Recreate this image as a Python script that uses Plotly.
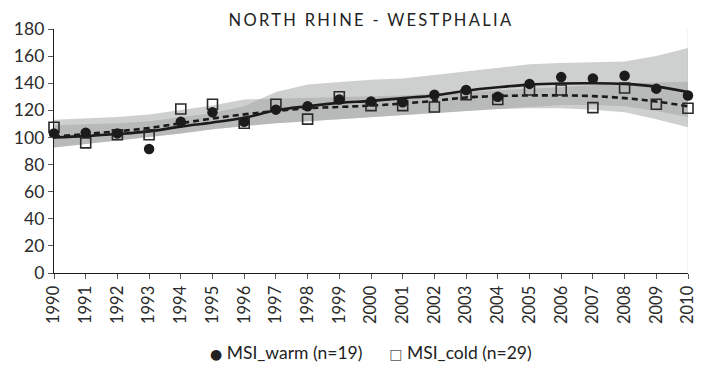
import plotly.graph_objects as go

years = list(range(1990, 2011))

# Annual index values (1990 = 100)
msi_warm = [103, 103.5, 103, 91.5, 111.5, 118.5, 111.5, 120.5, 123, 128, 126.5,
            126, 131.5, 135, 130, 139.5, 144.5, 143.5, 145.5, 136, 131]
msi_cold = [107.5, 96, 102, 102, 121, 124.5, 110.5, 124.5, 113.5, 130, 123.5,
            123.5, 122.5, 131.5, 128, 135, 135, 122, 136.5, 124.5, 121.5]

# Smoothed trends
warm_trend = [100, 101, 102.5, 104.5, 108, 111, 114.5, 120, 123, 125.5, 127,
              129, 131, 134.5, 137, 139, 139.8, 140, 139.5, 137.5, 133.5]
cold_trend = [100.5, 102.5, 104.5, 107, 110.5, 114, 117, 119.5, 121.5, 122.5, 123.5,
              125, 127, 129.5, 130.5, 131, 131, 130.5, 129, 126.5, 123]

# Confidence bands of the trends
warm_hi = [109, 109.5, 110.5, 112, 115, 118, 123, 133.5, 139, 141, 142.5,
           143.5, 146, 149, 151.5, 154, 155, 155.5, 156, 160, 166]
warm_lo = [92.5, 95, 98, 100.5, 103, 106, 108.5, 110.5, 112, 113.5, 115,
           117, 118.5, 120, 121, 122.5, 124, 124, 123, 119.5, 115]
cold_hi = [113, 114, 115, 117, 120, 123.5, 128, 128.5, 129, 129.5, 130,
           131, 132.5, 133.5, 135, 136, 137, 138.5, 140, 140.5, 141]
cold_lo = [92.5, 95, 98, 100.5, 103, 106, 108.5, 110.5, 112, 113.5, 115,
           117, 118.5, 120, 121, 121.5, 121.5, 120.5, 118.5, 113.5, 107.5]

y_ticks = [0, 20, 40, 60, 80, 100, 120, 140, 160, 180]

band_fill = "rgba(165,167,168,0.55)"
ink = "#1b1b1b"
font_family = "Lato, 'Open Sans', sans-serif"

fig = go.Figure()

# Confidence bands (overlap shows darker)
for lo, hi in [(warm_lo, warm_hi), (cold_lo, cold_hi)]:
    fig.add_trace(go.Scatter(x=years, y=lo, mode="lines", line=dict(width=0),
                             hoverinfo="skip", showlegend=False))
    fig.add_trace(go.Scatter(x=years, y=hi, mode="lines", line=dict(width=0),
                             fill="tonexty", fillcolor=band_fill,
                             hoverinfo="skip", showlegend=False))

# Trend lines
fig.add_trace(go.Scatter(x=years, y=cold_trend, mode="lines", line_shape="spline",
                         line=dict(color=ink, width=2.6, dash="6px,4px"),
                         showlegend=False, cliponaxis=False))
fig.add_trace(go.Scatter(x=years, y=warm_trend, mode="lines", line_shape="spline",
                         line=dict(color=ink, width=2.6),
                         showlegend=False, cliponaxis=False))

# Annual values
fig.add_trace(go.Scatter(x=years, y=msi_cold, mode="markers", name="MSI_cold (n=29)",
                         marker=dict(symbol="square-open", size=10,
                                     color="#2a2a2a", line=dict(width=1.6)),
                         showlegend=False, cliponaxis=False))
fig.add_trace(go.Scatter(x=years, y=msi_warm, mode="markers", name="MSI_warm (n=19)",
                         marker=dict(symbol="circle", size=10.5, color=ink),
                         showlegend=False, cliponaxis=False))

# Faint frame line on the right
fig.add_shape(type="line", x0=2010, x1=2010, y0=0, y1=180, xref="x", yref="y",
              line=dict(color="#e9e9e9", width=1), layer="below")

fig.update_layout(
    width=709, height=368,
    margin=dict(l=54, r=16, t=29, b=95),
    paper_bgcolor="white", plot_bgcolor="white",
    font=dict(family=font_family, color="#2b2b2b"),
    title=dict(text="<span style='letter-spacing:2.3px'>NORTH RHINE - WESTPHALIA</span>",
               x=0.5, xref="paper", xanchor="center",
               y=0.945, yref="container", yanchor="middle",
               font=dict(size=16.5, color="#222222", family=font_family)),
    xaxis=dict(range=[1990, 2010], tickmode="array", tickvals=years,
               ticktext=[str(y) for y in years], tickangle=-90,
               showline=True, linecolor=ink, linewidth=1.4,
               ticks="outside", ticklen=5, tickwidth=1, tickcolor="#555555",
               showgrid=False, zeroline=False,
               tickfont=dict(size=16.5, color="#2b2b2b")),
    yaxis=dict(range=[0, 180], tickmode="array", tickvals=y_ticks,
               showline=True, linecolor=ink, linewidth=1.4,
               ticks="outside", ticklen=5, tickwidth=1, tickcolor="#555555",
               showgrid=False, zeroline=False,
               tickfont=dict(size=17.5, color="#2b2b2b")),
    showlegend=False,
)

# Legend line, placed below the year labels
fig.add_annotation(
    text="<span style='font-family:DejaVu Sans;font-size:14px'>●</span> MSI_warm (n=19)"
         "      <span style='font-family:DejaVu Sans;font-size:14px;color:#555'>□</span> MSI_cold (n=29)",
    x=0.5, xref="paper", xanchor="center",
    y=(368 - 352 - 95) / (368 - 29 - 95), yref="paper", yanchor="middle",
    showarrow=False, font=dict(size=17.5, color="#222222", family=font_family))

fig.write_html("out.html")
